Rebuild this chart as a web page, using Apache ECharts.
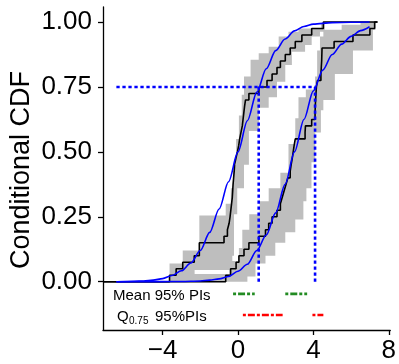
<!DOCTYPE html>
<html>
<head>
<meta charset="utf-8">
<script src="https://cdn.jsdelivr.net/npm/echarts@6/dist/echarts.min.js"></script>
<style>
  html, body { margin: 0; padding: 0; background: #fff; }
  #chart { width: 399px; height: 364px; }
</style>
</head>
<body>
<div id="chart"></div>
<script>
// observed samples (sorted), one ECDF each
const sampleA = [
  -3.63, -3.28, -2.93, -2.32, -2.05, -2.05, -0.74, -0.56, -0.47, -0.42,
  -0.38, -0.34, -0.30, -0.28, -0.26, -0.23, -0.20, -0.18, -0.11, -0.03,
  0.04, 0.09, 0.16, 0.23, 0.27, 0.31, 0.35, 0.40, 0.58, 1.11,
  1.54, 1.81, 2.07, 2.25, 2.51, 2.77, 3.04, 3.39, 3.91, 4.53
];
const sampleB = [
  -0.65, -0.39, -0.10, 0.05, 0.32, 0.58, 1.11, 1.46, 1.63, 1.81,
  2.07, 2.25, 2.35, 2.45, 2.55, 2.65, 2.77, 2.82, 2.88, 2.93,
  2.98, 3.04, 3.56, 3.58, 3.91, 4.09, 4.10, 4.12, 4.14, 4.16,
  4.22, 4.40, 4.42, 4.44, 4.45, 4.46, 5.10, 6.10, 7.00, 7.25
];

// gray bands: [x where the bound jumps, new level]
const bandAUpper = [[-3.63, 0.07], [-2.93, 0.12], [-2.05, 0.255], [-0.65, 0.30], [-0.38, 0.36],
  [-0.25, 0.45], [-0.1, 0.55], [0.05, 0.64], [0.2, 0.72], [0.32, 0.79], [0.67, 0.855], [1.1, 0.88],
  [1.63, 0.905], [2.16, 0.944], [2.68, 0.963], [3.21, 0.975], [4.4, 0.995], [4.55, 1.0]];
const bandALower = [[-2.3, 0.045], [-0.3, 0.10], [-0.21, 0.26], [-0.04, 0.36], [0.32, 0.45],
  [0.58, 0.58], [1.11, 0.67], [1.63, 0.71], [2.07, 0.77], [2.51, 0.835], [2.86, 0.886],
  [3.56, 0.912], [3.91, 0.944], [4.35, 0.963], [4.6, 1.0]];
const bandBUpper = [[-3.6, 0.03], [-0.45, 0.08], [0.05, 0.13], [0.23, 0.2], [0.6, 0.26],
  [1.15, 0.31], [1.63, 0.36], [2.25, 0.42], [2.68, 0.53], [3.04, 0.63], [3.21, 0.71], [3.6, 0.74],
  [4.09, 0.79], [4.2, 0.89], [4.35, 0.944], [4.53, 0.97], [5.5, 0.99], [6.5, 1.0]];
const bandBLower = [[0.5, 0.02], [0.93, 0.07], [1.46, 0.10], [1.98, 0.15], [2.51, 0.19],
  [3.04, 0.24], [3.47, 0.31], [3.63, 0.36], [3.9, 0.46], [4.1, 0.575], [4.4, 0.66], [4.53, 0.70],
  [5.14, 0.80], [6.1, 0.89], [7.16, 0.97], [7.3, 1.0]];

// blue model CDFs
const cdfA = [[-6.45, 0], [-5.5, 0.002], [-5, 0.003], [-4.5, 0.006], [-4, 0.012], [-3.5, 0.024],
  [-3, 0.042], [-2.5, 0.072], [-2, 0.12], [-1.5, 0.19], [-1, 0.28], [-0.5, 0.385], [0, 0.5],
  [0.5, 0.62], [1, 0.73], [1.5, 0.82], [2, 0.89], [2.5, 0.935], [3, 0.966], [3.5, 0.983],
  [4, 0.992], [5, 0.998], [6, 0.999], [6.98, 1.0]];
const cdfB = [[-6.45, 0], [-4, 0.0002], [-3, 0.001], [-2, 0.003], [-1.5, 0.006], [-1, 0.011],
  [-0.5, 0.02], [0, 0.04], [0.5, 0.067], [1, 0.12], [1.5, 0.18], [2, 0.265], [2.5, 0.375],
  [3, 0.5], [3.5, 0.625], [4, 0.735], [4.5, 0.815], [5, 0.875], [5.5, 0.915], [6, 0.945],
  [6.5, 0.967], [6.98, 0.982]];

const qLevel = 0.75;
const q75 = [1.1, 4.09];
const meanPI = [[-0.26, 0.89], [2.51, 3.67]];
const q75PI = [[0.26, 2.37], [3.95, 4.53]];
const xTicks = [-4, 0, 4, 8];
const yTicks = [0, 0.25, 0.5, 0.75, 1];

const xMin = -7.16, xMax = 8.08;
const font = 'Liberation Sans, Arial, Helvetica, sans-serif';

function ecdf(sample) {
  const pts = [[xMin, 0]];
  sample.forEach((v, i) => pts.push([v, (i + 1) / sample.length]));
  pts.push([7.4, 1]);
  return pts;
}

function stepPath(steps, x0, x1) {
  const pts = [[x0, 0]];
  let cur = 0;
  steps.forEach(([x, y]) => { pts.push([x, cur], [x, y]); cur = y; });
  pts.push([x1, cur]);
  return pts;
}

function band(upper, lower, x0, x1) {
  const poly = stepPath(upper, x0, x1).concat(stepPath(lower, x0, x1).reverse());
  return {
    type: 'custom',
    data: [[0, 0]],
    silent: true,
    renderItem: (params, api) => ({
      type: 'polygon',
      shape: {points: poly.map(p => api.coord(p))},
      style: {fill: '#bebebe'}
    })
  };
}

function line(data, color, width, type, step) {
  return {
    type: 'line',
    data: data,
    step: step || false,
    symbol: 'none',
    silent: true,
    lineStyle: {color: color, width: width, type: type || 'solid'}
  };
}

const series = [
  band(bandAUpper, bandALower, -3.63, 4.6),
  band(bandBUpper, bandBLower, -3.6, 7.3),
  line(ecdf(sampleA), '#000', 1.6, 'solid', 'end'),
  line(ecdf(sampleB), '#000', 1.6, 'solid', 'end'),
  Object.assign(line(cdfA, '#0000ff', 1.6), {smooth: 0.3, smoothMonotone: 'x'}),
  Object.assign(line(cdfB, '#0000ff', 1.6), {smooth: 0.3, smoothMonotone: 'x'}),
  line([[-6.45, qLevel], [q75[1], qLevel]], '#0000ff', 2.6, [3.3, 2.7]),
];
q75.forEach(q => series.push(line([[q, 0], [q, qLevel]], '#0000ff', 2.6, [3.3, 2.7])));
meanPI.forEach(r => series.push(line([[r[0], -0.047], [r[1], -0.047]], '#228b22', 2.6, [3, 2, 7, 2])));
q75PI.forEach(r => series.push(line([[r[0], -0.128], [r[1], -0.128]], '#ff0000', 2.6, [3, 2, 7, 2])));

const chart = echarts.init(document.getElementById('chart'));
chart.setOption({
  animation: false,
  textStyle: {fontFamily: font},
  grid: {left: 103, right: 6, top: 7, bottom: 32},
  xAxis: {
    type: 'value',
    min: xMin,
    max: xMax,
    splitLine: {show: false},
    axisLine: {onZero: false, lineStyle: {color: '#000', width: 1.3}},
    axisTick: {customValues: xTicks, length: 5, lineStyle: {color: '#000', width: 1.3}},
    axisLabel: {
      customValues: xTicks,
      fontSize: 26,
      color: '#000',
      margin: 8,
      formatter: v => (v < 0 ? '\u2212' + Math.abs(v) : String(v))
    }
  },
  yAxis: {
    type: 'value',
    min: -0.186,
    max: 1.058,
    splitLine: {show: false},
    axisLine: {onZero: false, lineStyle: {color: '#000', width: 1.3}},
    axisTick: {customValues: yTicks, length: 5, lineStyle: {color: '#000', width: 1.3}},
    axisLabel: {
      customValues: yTicks,
      fontSize: 26,
      color: '#000',
      margin: 11,
      formatter: v => v.toFixed(2)
    }
  },
  graphic: [
    {
      type: 'text', x: 22, y: 170, rotation: Math.PI / 2,
      style: {text: 'Conditional CDF', font: '27px ' + font, fill: '#000', align: 'center', verticalAlign: 'middle'}
    },
    {type: 'text', left: 113, top: 288, style: {text: 'Mean 95% PIs', font: '15px ' + font, fill: '#000'}},
    {type: 'text', left: 117, top: 309, style: {text: 'Q', font: '15px ' + font, fill: '#000'}},
    {type: 'text', left: 129, top: 316, style: {text: '0.75', font: '10px ' + font, fill: '#000'}},
    {type: 'text', left: 155, top: 309, style: {text: '95%PIs', font: '15px ' + font, fill: '#000'}}
  ],
  series: series
});
</script>
</body>
</html>
